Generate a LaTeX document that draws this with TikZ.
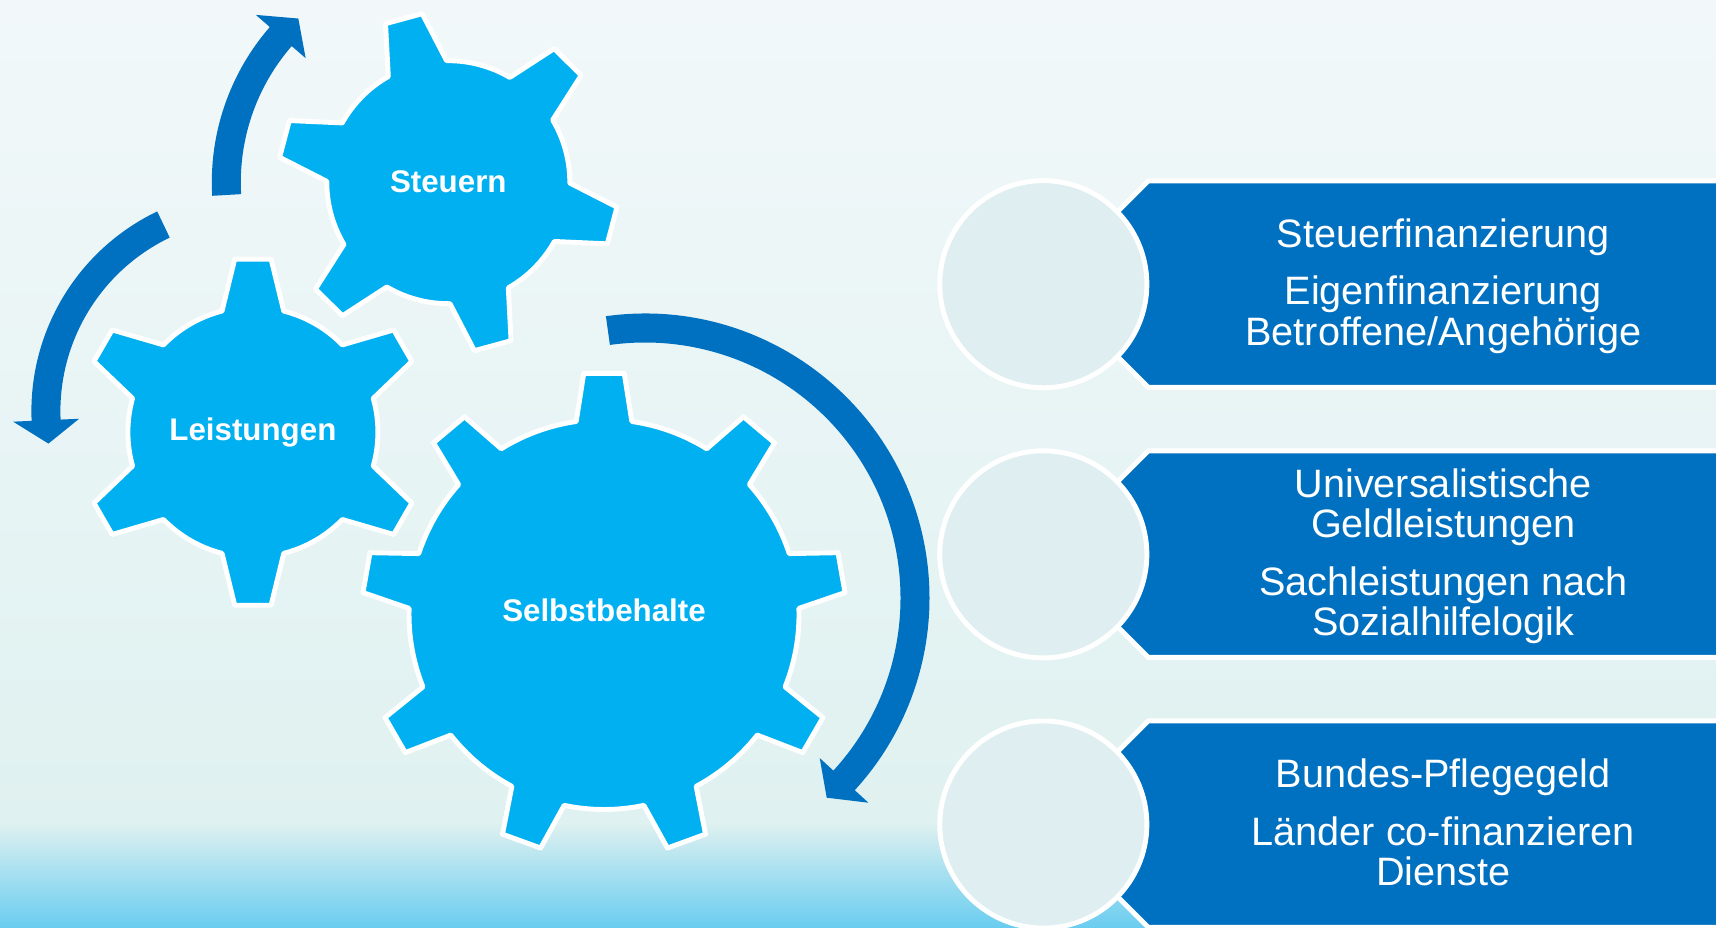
\documentclass[tikz,border=0pt]{standalone}
\usepackage{fontspec}
\setmainfont{Liberation Sans}
\usetikzlibrary{positioning,calc}
\definecolor{zahnblau}{HTML}{00B0F0}
\definecolor{pfeilblau}{HTML}{0070C0}
\definecolor{kreisgrau}{HTML}{DFEEF0}
\definecolor{bgoben}{HTML}{F2F8FA}
\definecolor{bgmitte}{HTML}{DFF1F0}
\definecolor{bgband}{HTML}{A8E0EF}
\definecolor{bgunten}{HTML}{6ACDF0}
\tikzset{
    zahn/.style={
        fill=zahnblau,
        draw=white,
        line width=1.4pt,
        line join=round
    },
    zahntext/.style={
        text=white,
        font=\fontsize{8.9}{10}\selectfont\bfseries
    },
    pfeil/.style={
        fill=pfeilblau
    },
    band/.style={
        fill=pfeilblau,
        draw=white,
        line width=1.4pt
    },
    kreis/.style={
        circle,
        fill=kreisgrau,
        draw=white,
        line width=1.4pt,
        inner sep=0pt,
        outer sep=0pt,
        minimum size=2.07cm
    },
    bandtext/.style={
        text=white,
        align=center,
        font=\fontsize{11.27}{11.52}\selectfont
    },
}
% gear: center, teeth, first tooth angle, inner r, outer r, half base, half tip
\newcommand{\zahnrad}[7]{%
    \draw[zahn] ($(#1)+(#3-#6:#4)$)
    \foreach \k [evaluate=\k as \w using {#3+(\k-1)*360/#2}] in {1,...,#2}{
        -- ($(#1)+(\w-#7:#5)$) -- ($(#1)+(\w+#7:#5)$) -- ($(#1)+(\w+#6:#4)$)
        arc[start angle=\w+#6, end angle=\w+360/#2-#6, radius=#4]
    } -- cycle;
}
% curved arrow: center, start angle, end angle, tip angle, radius
\newcommand{\kreispfeil}[5]{%
    \fill[pfeil] ($(#1)+(#2:#5+14.5)$) arc[start angle=#2, end angle=#3, radius=#5+14.5]
        -- ($(#1)+(#3:#5+33)$) -- ($(#1)+(#4:#5)$) -- ($(#1)+(#3:#5-33)$)
        -- ($(#1)+(#3:#5-14.5)$) arc[start angle=#3, end angle=#2, radius=#5-14.5] -- cycle;
}

\begin{document}
\begin{tikzpicture}[x=0.01cm,y=0.01cm]
    \useasboundingbox (0,0) rectangle (1716,927);
    \shade[top color=bgoben,bottom color=bgmitte] (0,103) rectangle (1716,927);
    \shade[top color=bgmitte,middle color=bgband,bottom color=bgunten] (0,0) rectangle (1716,104);

    \coordinate (st) at (448.3,744.8);
    \coordinate (le) at (252.9,494.8);
    \coordinate (se) at (604,312.5);
    \coordinate (lm) at ($(le)+(0,21)$);
    \coordinate (sm) at ($(se)+(41,16.5)$);

    \kreispfeil{st}{183.3}{139}{132.5}{222}
    \kreispfeil{lm}{115.6}{182.5}{189}{207}
    \kreispfeil{sm}{97.9}{-42.5}{-47.7}{270}

    \zahnrad{st}{6}{105.2}{121.5}{170.5}{14.4}{6.4}
    \zahnrad{le}{6}{90}{125}{174}{14.3}{6}
    \zahnrad{se}{9}{90}{195}{242}{8.2}{4.8}

    \node[zahntext] (steuern) at (st) {Steuern};
    \node[zahntext] (leistungen) at (le) {Leistungen};
    \node[zahntext] (selbst) at ($(se)+(0,4)$) {Selbstbehalte};

    \coordinate (k1) at (1043.3,642.8);
    \coordinate (k2) at ($(k1)+(0,-270)$);
    \coordinate (k3) at ($(k2)+(0,-270)$);

    \draw[band] ($(k1)+(1.7,0)$) -- ++(103.25,103.25) -- ++(700,0) -- ++(0,-206.5) -- ++(-700,0) -- cycle;
    \draw[band] ($(k2)+(1.7,0)$) -- ++(103.25,103.25) -- ++(700,0) -- ++(0,-206.5) -- ++(-700,0) -- cycle;
    \draw[band] ($(k3)+(1.7,0)$) -- ++(103.25,103.25) -- ++(700,0) -- ++(0,-206.5) -- ++(-700,0) -- cycle;

    \node[kreis] (c1) at (k1) {};
    \node[kreis, below=0.63cm of c1] (c2) {};
    \node[kreis, below=0.63cm of c2] (c3) {};

    \node[bandtext] (t1) at ($(c1)+(400,-2)$) {Steuerfinanzierung\\[4.8pt]Eigenfinanzierung\\Betroffene/Angehörige};
    \node[bandtext] (t2) at ($(c2)+(400,-2)$) {Universalistische\\Geldleistungen\\[4.8pt]Sachleistungen nach\\Sozialhilfelogik};
    \node[bandtext] (t3) at ($(c3)+(400,2)$) {Bundes-Pflegegeld\\[4.8pt]Länder co-finanzieren\\Dienste};
\end{tikzpicture}
\end{document}
